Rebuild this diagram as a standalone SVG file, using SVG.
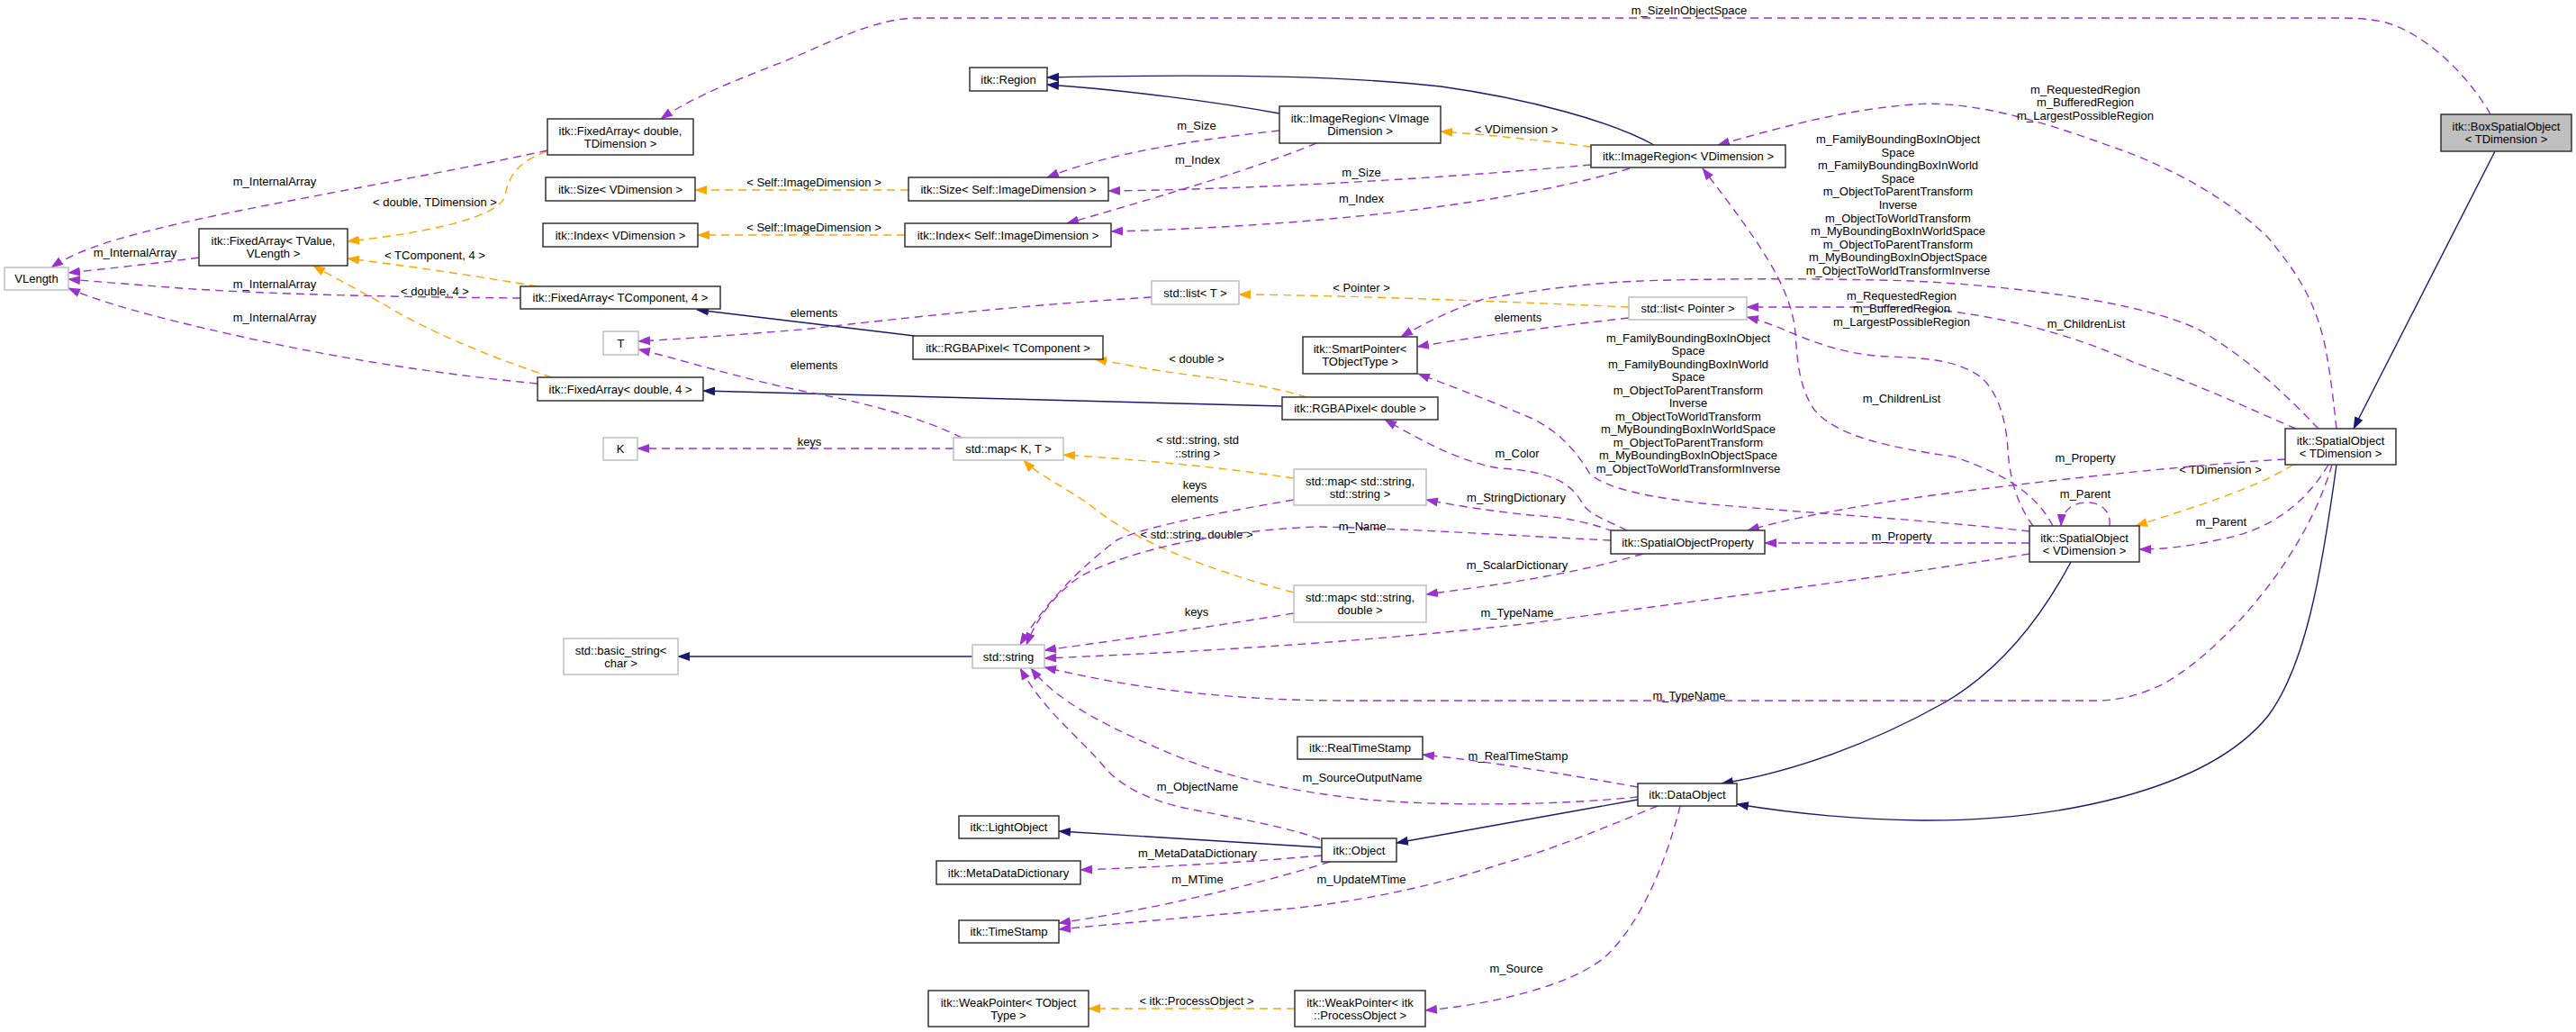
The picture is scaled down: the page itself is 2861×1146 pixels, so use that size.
<svg xmlns="http://www.w3.org/2000/svg" width="2861" height="1146" viewBox="0 0 2861 1146">
<style>
text{font-family:"Liberation Sans",Arial,Helvetica,sans-serif;font-size:13px;fill:#000;text-anchor:middle}
.nd{fill:#fff;stroke:#333;stroke-width:1.5}
.ng{fill:#fff;stroke:#bfbfbf;stroke-width:1.5}
.nb{fill:#bfbfbf;stroke:#333;stroke-width:1.5}
.e{fill:none;stroke-width:1.4}
.p{stroke:#9a32cd;stroke-dasharray:9,6;marker-end:url(#ap)}
.o{stroke:#ffa500;stroke-dasharray:9,6;marker-end:url(#ao)}
.b{stroke:#191970;marker-end:url(#ab)}
</style>
<defs>
<marker id="ap" viewBox="0 0 14 10" refX="13" refY="5" markerWidth="14" markerHeight="10" markerUnits="userSpaceOnUse" orient="auto"><path d="M0,0L14,5L0,10z" fill="#9a32cd"/></marker>
<marker id="ao" viewBox="0 0 14 10" refX="13" refY="5" markerWidth="14" markerHeight="10" markerUnits="userSpaceOnUse" orient="auto"><path d="M0,0L14,5L0,10z" fill="#ffa500"/></marker>
<marker id="ab" viewBox="0 0 14 10" refX="13" refY="5" markerWidth="14" markerHeight="10" markerUnits="userSpaceOnUse" orient="auto"><path d="M0,0L14,5L0,10z" fill="#191970"/></marker>
</defs>
<rect width="2861" height="1146" fill="#fff"/>
<g id="connectors">
<path class="e b" d="M1421,126 C1350,113 1250,100 1163,94"/>
<path class="e b" d="M1837,161 C1790,135 1700,110 1600,96 C1480,82 1300,83 1163,86"/>
<path class="e b" d="M1016,373 L774,344"/>
<path class="e b" d="M1424,451 L781,434"/>
<path class="e b" d="M1080,729 L753,729"/>
<path class="e b" d="M1468,941 L1176,923"/>
<path class="e b" d="M1819,888 L1551,936"/>
<path class="e b" d="M2300,624 C2265,690 2220,745 2160,780 C2080,825 1990,858 1912,870"/>
<path class="e b" d="M2595,516 C2578,640 2560,740 2519,795 C2450,880 2280,912 2133,911 C2060,910 1990,903 1929,893"/>
<path class="e b" d="M2771,168 L2614,476"/>

<path class="e o" d="M607,168 C575,180 565,195 561,217 C556,240 480,258 386,268"/>
<text x="483" y="228.5">&lt; double, TDimension &gt;</text>
<path class="e o" d="M597,318 C520,305 450,295 386,287"/>
<text x="483" y="287.5">&lt; TComponent, 4 &gt;</text>
<path class="e o" d="M613,419 C540,395 470,365 430,340 C395,320 365,305 348,295"/>
<text x="483" y="327.5">&lt; double, 4 &gt;</text>
<path class="e o" d="M1009,211 L772,211"/>
<text x="904" y="207">&lt; Self::ImageDimension &gt;</text>
<path class="e o" d="M1005,261 L775,261"/>
<text x="904" y="257">&lt; Self::ImageDimension &gt;</text>
<path class="e o" d="M1767,163 C1720,157 1660,150 1600,146"/>
<text x="1684" y="147.5">&lt; VDimension &gt;</text>
<path class="e o" d="M1809,341 C1700,336 1500,328 1376,327"/>
<text x="1512" y="323.5">&lt; Pointer &gt;</text>
<path class="e o" d="M1451,441 C1400,425 1330,418 1290,412 C1260,407 1235,402 1216,399"/>
<text x="1329" y="402.5">&lt; double &gt;</text>
<path class="e o" d="M1437,531 C1350,518 1260,510 1181,505"/>
<text x="1330" y="492.5">&lt; std::string, std<tspan x="1330" dy="15">::string &gt;</tspan></text>
<path class="e o" d="M1437,658 C1330,630 1250,595 1210,560 C1180,540 1150,525 1137,511"/>
<text x="1329" y="597.5">&lt; std::string, double &gt;</text>
<path class="e o" d="M1438,1120 L1209,1120"/>
<text x="1329" y="1116">&lt; itk::ProcessObject &gt;</text>
<path class="e o" d="M2547,516 C2500,545 2430,565 2372,584"/>
<text x="2466" y="525.5">&lt; TDimension &gt;</text>

<path class="e p" d="M608,167 C480,195 300,225 200,248 C140,262 90,275 57,297"/>
<text x="305" y="205.5">m_InternalArray</text>
<path class="e p" d="M221,286 C170,293 120,298 76,303"/>
<text x="150" y="284.5">m_InternalArray</text>
<path class="e p" d="M578,331 C450,330 300,327 200,320 C150,316 110,313 76,310"/>
<text x="305" y="319.5">m_InternalArray</text>
<path class="e p" d="M597,426 C480,415 360,395 260,372 C170,352 110,335 76,320"/>
<text x="305" y="356.5">m_InternalArray</text>
<path class="e p" d="M1421,145 C1330,155 1230,170 1163,197"/>
<text x="1329" y="143.5">m_Size</text>
<path class="e p" d="M1462,159 C1400,185 1300,215 1185,248"/>
<text x="1330" y="181.5">m_Index</text>
<path class="e p" d="M1767,183 C1600,198 1400,210 1231,212"/>
<text x="1512" y="195.5">m_Size</text>
<path class="e p" d="M1810,187 C1700,220 1500,250 1234,257"/>
<text x="1512" y="224.5">m_Index</text>
<path class="e p" d="M1279,330 C1150,338 1010,352 900,365 C820,372 760,376 709,379"/>
<text x="904" y="351.5">elements</text>
<path class="e p" d="M1068,486 C1020,462 950,445 900,436 C820,420 760,400 709,388"/>
<text x="904" y="409.5">elements</text>
<path class="e p" d="M1059,498 L708,498"/>
<text x="899" y="494.5">keys</text>
<path class="e p" d="M1809,353 C1730,362 1650,372 1574,385"/>
<text x="1686" y="356.5">elements</text>
<path class="e p" d="M1807,589 C1790,580 1765,572 1758,560 C1745,535 1720,523 1665,520 C1620,512 1580,490 1538,466"/>
<text x="1685" y="507.5">m_Color</text>
<path class="e p" d="M1792,590 C1770,582 1740,574 1700,572 C1660,568 1620,562 1584,555"/>
<text x="1684" y="556.5">m_StringDictionary</text>
<path class="e p" d="M1789,600 C1700,596 1550,586 1461,585 C1350,590 1257,610 1200,640 C1170,660 1150,690 1140,716"/>
<text x="1513" y="588.5">m_Name</text>
<path class="e p" d="M1825,615 C1780,628 1740,636 1700,643 C1660,650 1620,655 1584,660"/>
<text x="1685" y="631.5">m_ScalarDictionary</text>
<path class="e p" d="M1437,555 C1350,570 1270,585 1240,600 C1200,630 1160,670 1133,716"/>
<text x="1327" y="542.5">keys<tspan x="1327" dy="15">elements</tspan></text>
<path class="e p" d="M1437,681 C1350,695 1250,710 1160,722"/>
<text x="1329" y="683.5">keys</text>
<path class="e p" d="M2254,615 C2100,640 1900,665 1700,692 C1500,715 1300,725 1160,731"/>
<text x="1685" y="684.5">m_TypeName</text>
<path class="e p" d="M2590,516 C2560,620 2470,720 2407,757 C2380,772 2350,778 2330,778 L1500,778 C1350,778 1250,762 1160,741"/>
<text x="1876" y="776.5">m_TypeName</text>
<path class="e p" d="M2254,603 L1960,603"/>
<text x="2112" y="599.5">m_Property</text>
<path class="e p" d="M2538,510 C2450,515 2300,530 2146,550 C2060,562 1990,575 1941,589"/>
<text x="2316" y="512.5">m_Property</text>
<path class="e p" d="M2343,584 C2345,565 2330,557 2316,558 C2300,559 2290,568 2289,584"/>
<text x="2316" y="553">m_Parent</text>
<path class="e p" d="M2586,516 C2560,560 2520,590 2461,600 C2430,607 2400,610 2376,610"/>
<text x="2467" y="583.5">m_Parent</text>
<path class="e p" d="M2258,584 C2240,560 2232,530 2230,500 C2228,460 2215,425 2191,413 C2170,402 2150,398 2100,396 C2060,395 2030,385 2008,377 C1985,368 1965,358 1940,352"/>
<text x="2112" y="446.5">m_ChildrenList</text>
<path class="e p" d="M2550,476 C2500,455 2443,427 2371,403 C2300,370 2200,343 2100,341 L1940,341"/>
<text x="2317" y="363.5">m_ChildrenList</text>
<path class="e p" d="M2254,590 C2150,578 2012,570 1900,560 C1834,553 1780,542 1765,525 C1750,500 1730,478 1700,464 C1660,447 1620,432 1575,415"/>
<text x="1875" y="379.5">m_FamilyBoundingBoxInObject<tspan x="1875" dy="14.5">Space</tspan><tspan x="1875" dy="14.5">m_FamilyBoundingBoxInWorld</tspan><tspan x="1875" dy="14.5">Space</tspan><tspan x="1875" dy="14.5">m_ObjectToParentTransform</tspan><tspan x="1875" dy="14.5">Inverse</tspan><tspan x="1875" dy="14.5">m_ObjectToWorldTransform</tspan><tspan x="1875" dy="14.5">m_MyBoundingBoxInWorldSpace</tspan><tspan x="1875" dy="14.5">m_ObjectToParentTransform</tspan><tspan x="1875" dy="14.5">m_MyBoundingBoxInObjectSpace</tspan><tspan x="1875" dy="14.5">m_ObjectToWorldTransformInverse</tspan></text>
<path class="e p" d="M2575,476 C2540,440 2500,400 2444,367 C2380,335 2240,318 2124,312 C2000,308 1850,310 1801,313 C1740,317 1690,325 1648,332 C1610,345 1580,360 1556,374"/>
<text x="2108" y="159">m_FamilyBoundingBoxInObject<tspan x="2108" dy="14.6">Space</tspan><tspan x="2108" dy="14.6">m_FamilyBoundingBoxInWorld</tspan><tspan x="2108" dy="14.6">Space</tspan><tspan x="2108" dy="14.6">m_ObjectToParentTransform</tspan><tspan x="2108" dy="14.6">Inverse</tspan><tspan x="2108" dy="14.6">m_ObjectToWorldTransform</tspan><tspan x="2108" dy="14.6">m_MyBoundingBoxInWorldSpace</tspan><tspan x="2108" dy="14.6">m_ObjectToParentTransform</tspan><tspan x="2108" dy="14.6">m_MyBoundingBoxInObjectSpace</tspan><tspan x="2108" dy="14.6">m_ObjectToWorldTransformInverse</tspan></text>
<path class="e p" d="M2280,584 C2262,550 2230,527 2169,507 C2100,497 2040,485 2015,455 C1998,430 1996,400 1994,370 C1990,320 1955,270 1891,187"/>
<text x="2112" y="332.5">m_RequestedRegion<tspan x="2112" dy="14.5">m_BufferedRegion</tspan><tspan x="2112" dy="14.5">m_LargestPossibleRegion</tspan></text>
<path class="e p" d="M2595,476 C2590,430 2585,390 2578,367 C2565,320 2540,290 2520,265 C2480,225 2420,190 2357,167 C2290,143 2200,110 2124,116 C2050,122 1990,138 1908,161"/>
<text x="2316" y="103.5">m_RequestedRegion<tspan x="2316" dy="14.5">m_BufferedRegion</tspan><tspan x="2316" dy="14.5">m_LargestPossibleRegion</tspan></text>
<path class="e p" d="M2766,127 C2745,90 2700,40 2650,25 C2630,20 2610,20 2590,20 L1020,20 C980,20 940,38 895,58 C850,78 780,100 734,132"/>
<text x="1876" y="16">m_SizeInObjectSpace</text>
<path class="e p" d="M1819,874 C1740,860 1650,845 1580,838"/>
<text x="1686" y="843.5">m_RealTimeStamp</text>
<path class="e p" d="M1819,885 C1720,895 1600,895 1520,888 C1440,880 1370,865 1315,843 C1230,808 1175,780 1145,742"/>
<text x="1513" y="867.5">m_SourceOutputName</text>
<path class="e p" d="M1466,932 C1430,918 1378,910 1330,900 C1283,892 1245,875 1225,850 C1195,815 1160,790 1133,742"/>
<text x="1330" y="877.5">m_ObjectName</text>
<path class="e p" d="M1468,950 C1380,958 1280,963 1200,966"/>
<text x="1330" y="952">m_MetaDataDictionary</text>
<path class="e p" d="M1477,957 C1420,975 1346,993 1290,1005 C1250,1013 1210,1020 1176,1025"/>
<text x="1330" y="980.5">m_MTime</text>
<path class="e p" d="M1841,895 C1780,920 1720,945 1665,960 C1600,982 1506,1003 1420,1010 C1346,1016 1250,1025 1176,1032"/>
<text x="1512" y="980.5">m_UpdateMTime</text>
<path class="e p" d="M1866,895 C1850,960 1820,1030 1780,1065 C1740,1095 1660,1115 1583,1122"/>
<text x="1684" y="1080">m_Source</text>
</g>

<g id="n_VLength"><rect class="ng" x="5" y="297" width="71" height="25"/><text x="40.5" y="314">VLength</text></g>
<g id="n_FixedArray_TValue"><rect class="nd" x="221" y="254" width="165" height="41"/><text x="303.5" y="272">itk::FixedArray&lt; TValue,</text><text x="303.5" y="286">VLength &gt;</text></g>
<g id="n_FixedArray_double_TDim"><rect class="nd" x="608" y="132" width="162" height="40"/><text x="689" y="149.5">itk::FixedArray&lt; double,</text><text x="689" y="163.5">TDimension &gt;</text></g>
<g id="n_Size_VDim"><rect class="nd" x="606" y="197" width="166" height="26"/><text x="689" y="214.5">itk::Size&lt; VDimension &gt;</text></g>
<g id="n_Index_VDim"><rect class="nd" x="603" y="248" width="172" height="26"/><text x="689" y="265.5">itk::Index&lt; VDimension &gt;</text></g>
<g id="n_FixedArray_TComp4"><rect class="nd" x="578" y="318" width="222" height="25"/><text x="689" y="335">itk::FixedArray&lt; TComponent, 4 &gt;</text></g>
<g id="n_T"><rect class="ng" x="670" y="368" width="39" height="26"/><text x="689.5" y="385.5">T</text></g>
<g id="n_RGBAPixel_TComp"><rect class="nd" x="1014" y="373" width="211" height="26"/><text x="1119.5" y="390.5">itk::RGBAPixel&lt; TComponent &gt;</text></g>
<g id="n_FixedArray_double4"><rect class="nd" x="597" y="419" width="184" height="26"/><text x="689" y="436.5">itk::FixedArray&lt; double, 4 &gt;</text></g>
<g id="n_Region"><rect class="nd" x="1077" y="75" width="86" height="26"/><text x="1120" y="92.5">itk::Region</text></g>
<g id="n_Size_Self"><rect class="nd" x="1009" y="197" width="222" height="26"/><text x="1120" y="214.5">itk::Size&lt; Self::ImageDimension &gt;</text></g>
<g id="n_Index_Self"><rect class="nd" x="1005" y="248" width="229" height="26"/><text x="1119.5" y="265.5">itk::Index&lt; Self::ImageDimension &gt;</text></g>
<g id="n_ImageRegion_VImage"><rect class="nd" x="1421" y="118" width="179" height="41"/><text x="1510.5" y="136">itk::ImageRegion&lt; VImage</text><text x="1510.5" y="150">Dimension &gt;</text></g>
<g id="n_ImageRegion_VDim"><rect class="nd" x="1767" y="161" width="216" height="25"/><text x="1875" y="178">itk::ImageRegion&lt; VDimension &gt;</text></g>
<g id="n_list_T"><rect class="ng" x="1279" y="312" width="97" height="26"/><text x="1327.5" y="329.5">std::list&lt; T &gt;</text></g>
<g id="n_list_Pointer"><rect class="ng" x="1809" y="330" width="131" height="25"/><text x="1874.5" y="347">std::list&lt; Pointer &gt;</text></g>
<g id="n_SmartPointer"><rect class="nd" x="1447" y="374" width="127" height="41"/><text x="1510.5" y="392">itk::SmartPointer&lt;</text><text x="1510.5" y="406">TObjectType &gt;</text></g>
<g id="n_RGBAPixel_double"><rect class="nd" x="1424" y="441" width="173" height="25"/><text x="1510.5" y="458">itk::RGBAPixel&lt; double &gt;</text></g>
<g id="n_K"><rect class="ng" x="670" y="486" width="38" height="25"/><text x="689" y="503">K</text></g>
<g id="n_map_KT"><rect class="ng" x="1059" y="486" width="122" height="25"/><text x="1120" y="503">std::map&lt; K, T &gt;</text></g>
<g id="n_map_ss"><rect class="ng" x="1437" y="521" width="147" height="40"/><text x="1510.5" y="538.5">std::map&lt; std::string,</text><text x="1510.5" y="552.5">std::string &gt;</text></g>
<g id="n_SpatialObjectProperty"><rect class="nd" x="1789" y="589" width="171" height="26"/><text x="1874.5" y="606.5">itk::SpatialObjectProperty</text></g>
<g id="n_map_sd"><rect class="ng" x="1437" y="650" width="147" height="41"/><text x="1510.5" y="668">std::map&lt; std::string,</text><text x="1510.5" y="682">double &gt;</text></g>
<g id="n_basic_string"><rect class="ng" x="626" y="709" width="127" height="40"/><text x="689.5" y="726.5">std::basic_string&lt;</text><text x="689.5" y="740.5">char &gt;</text></g>
<g id="n_string"><rect class="ng" x="1080" y="716" width="80" height="26"/><text x="1120" y="733.5">std::string</text></g>
<g id="n_SpatialObject_V"><rect class="nd" x="2254" y="584" width="122" height="40"/><text x="2315" y="601.5">itk::SpatialObject</text><text x="2315" y="615.5">&lt; VDimension &gt;</text></g>
<g id="n_SpatialObject_T"><rect class="nd" x="2538" y="476" width="123" height="40"/><text x="2599.5" y="493.5">itk::SpatialObject</text><text x="2599.5" y="507.5">&lt; TDimension &gt;</text></g>
<g id="n_BoxSpatialObject"><rect class="nb" x="2711" y="127" width="145" height="41"/><text x="2783.5" y="145">itk::BoxSpatialObject</text><text x="2783.5" y="159">&lt; TDimension &gt;</text></g>
<g id="n_RealTimeStamp"><rect class="nd" x="1441" y="818" width="139" height="25"/><text x="1510.5" y="835">itk::RealTimeStamp</text></g>
<g id="n_DataObject"><rect class="nd" x="1819" y="870" width="110" height="25"/><text x="1874" y="887">itk::DataObject</text></g>
<g id="n_LightObject"><rect class="nd" x="1065" y="906" width="111" height="25"/><text x="1120.5" y="923">itk::LightObject</text></g>
<g id="n_Object"><rect class="nd" x="1468" y="931" width="83" height="26"/><text x="1509.5" y="948.5">itk::Object</text></g>
<g id="n_MetaDataDictionary"><rect class="nd" x="1040" y="956" width="160" height="26"/><text x="1120" y="973.5">itk::MetaDataDictionary</text></g>
<g id="n_TimeStamp"><rect class="nd" x="1065" y="1022" width="111" height="25"/><text x="1120.5" y="1039">itk::TimeStamp</text></g>
<g id="n_WeakPointer_T"><rect class="nd" x="1031" y="1100" width="178" height="40"/><text x="1120" y="1117.5">itk::WeakPointer&lt; TObject</text><text x="1120" y="1131.5">Type &gt;</text></g>
<g id="n_WeakPointer_PO"><rect class="nd" x="1438" y="1100" width="145" height="40"/><text x="1510.5" y="1117.5">itk::WeakPointer&lt; itk</text><text x="1510.5" y="1131.5">::ProcessObject &gt;</text></g>
</svg>
